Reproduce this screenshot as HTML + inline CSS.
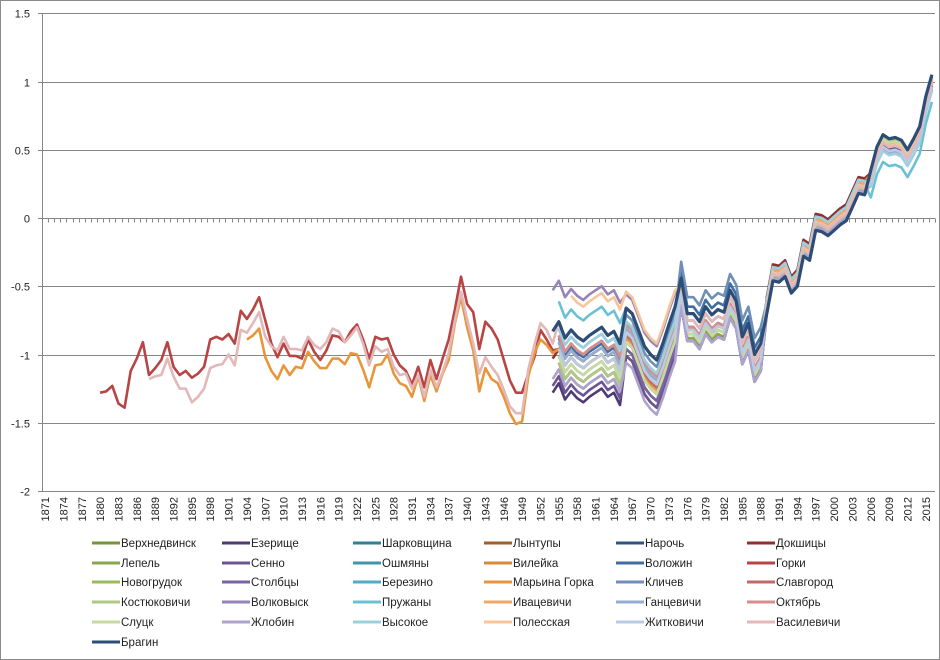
<!DOCTYPE html>
<html><head><meta charset="utf-8">
<style>
html,body{margin:0;padding:0;background:#fff;}
#wrap{position:relative;width:940px;height:660px;overflow:hidden;font-family:"Liberation Sans","DejaVu Sans",sans-serif;}
svg text{font-family:"Liberation Sans","DejaVu Sans",sans-serif;}
</style></head>
<body>
<div id="wrap">
<svg id="chart" width="940" height="660"></svg>
</div>
<script>
const startYear = 1871;
const endYear = 2016;
const yTicks = [1.5, 1, 0.5, 0, -0.5, -1, -1.5, -2];
const yTickLabels = ["1.5","1","0.5","0","-0.5","-1","-1.5","-2"];
const seriesNames = ["Верхнедвинск","Езерище","Шарковщина","Лынтупы","Нарочь","Докшицы",
 "Лепель","Сенно","Ошмяны","Вилейка","Воложин","Горки",
 "Новогрудок","Столбцы","Березино","Марьина Горка","Кличев","Славгород",
 "Костюковичи","Волковыск","Пружаны","Ивацевичи","Ганцевичи","Октябрь",
 "Слуцк","Жлобин","Высокое","Полесская","Житковичи","Василевичи","Брагин"];
const seriesColors = ["#77933c","#4f3a73","#2f7f95","#a0602a","#2f5480","#8f3030",
 "#8aa84a","#6b5494","#3f96aa","#d98a3c","#3f6ea6","#b84444",
 "#9bbb59","#7a63a3","#4fadc4","#e8963c","#6f8fb8","#c06a68",
 "#b0c882","#9684b8","#6cc0d4","#f0a868","#93aed2","#d48e8c",
 "#c6d8a4","#ada3cc","#9dd0de","#f8c49a","#b9cbe3","#e2b8b8","#2c4d75"];
// Брагин, 1954..2016
const braginStart = 1954;
const braginValues = [-0.83,-0.76,-0.88,-0.82,-0.87,-0.90,-0.86,-0.83,-0.80,-0.86,-0.83,-0.92,
 -0.66,-0.70,-0.82,-0.94,-1.00,-1.04,-0.92,-0.78,-0.65,
 -0.44,-0.70,-0.70,-0.76,-0.65,-0.71,-0.67,-0.69,-0.53,-0.61,-0.87,-0.77,-1.00,-0.92,
 -0.70,-0.46,-0.47,-0.43,-0.55,-0.50,-0.28,-0.31,-0.09,-0.10,-0.13,-0.09,-0.05,-0.02,0.08,0.18,0.17,
 0.35,0.52,0.61,0.58,0.59,0.57,0.50,0.58,0.67,0.89,1.05];
// Горки 1880..1954
const gorkiEarly = [-1.28,-1.27,-1.23,-1.36,-1.39,-1.12,-1.03,-0.91,-1.15,-1.10,-1.04,-0.91,-1.09,-1.15,-1.12,-1.17,-1.14,-1.09,-0.89,-0.87,-0.89,-0.85,-0.92,-0.68,-0.74,-0.67,-0.58,-0.75,-0.92,-1.02,-0.92,-1.01,-1.01,-1.03,-0.89,-0.98,-1.04,
 -0.97,-0.86,-0.87,-0.91,-0.83,-0.78,-0.89,-1.03,-0.87,-0.89,-0.88,-1.00,-1.08,-1.12,-1.22,-1.09,-1.24,-1.04,-1.18,-1.03,-0.89,-0.67,-0.43,-0.63,-0.69,-0.96,-0.76,-0.81,-0.89,-1.04,-1.19,-1.28,-1.28,-1.14,-1.02,-0.82,-0.89,-0.97];
// Василевичи 1888..1954
const vasilevichiEarly = [-1.18,-1.16,-1.15,-1.03,-1.16,-1.25,-1.25,-1.35,-1.31,-1.25,-1.10,-1.08,-1.07,-1.00,-1.08,-0.82,-0.84,-0.77,-0.69,-0.87,-0.94,-0.97,-0.87,-0.96,-0.96,-0.97,-0.87,-0.93,-0.96,
 -0.91,-0.81,-0.83,-0.91,-0.86,-0.80,-0.92,-1.08,-0.94,-0.98,-0.96,-1.09,-1.15,-1.14,-1.25,-1.15,-1.31,-1.11,-1.24,-1.13,-0.99,-0.75,-0.54,-0.74,-0.92,-1.14,-1.02,-1.09,-1.15,-1.26,-1.38,-1.43,-1.43,-1.11,-0.93,-0.77,-0.82,-0.92];
// Марьина Горка 1904..1954
const marinaEarly = [-0.89,-0.86,-0.81,-1.02,-1.12,-1.18,-1.08,-1.15,-1.09,-1.10,-0.98,-1.05,-1.10,
 -1.10,-1.03,-1.03,-1.07,-0.99,-1.00,-1.11,-1.24,-1.08,-1.07,-1.00,-1.14,-1.21,-1.23,-1.31,-1.16,-1.34,-1.15,-1.27,-1.14,-1.04,-0.77,-0.58,-0.80,-0.97,-1.27,-1.10,-1.18,-1.21,-1.31,-1.43,-1.51,-1.49,-1.16,-0.99,-0.89,-0.93,-0.99];
// offsets relative to Брагин for periods 1954-65, 1966-74, 1975-88, 1989-2005, 2006-16
const periodStarts = [1954,1966,1975,1989,2006];
const seriesOffsets = [
 [-0.30,-0.30,-0.15,0.05,-0.02],[-0.45,-0.35,-0.20,0.00,-0.08],[-0.15,-0.15,-0.10,0.08,-0.06],[0.00,-0.20,-0.10,0.10,-0.02],[-0.10,-0.15,-0.10,0.05,-0.03],[-0.20,-0.25,-0.15,0.12,-0.02],
 [-0.35,-0.30,-0.18,0.05,-0.01],[-0.40,-0.35,-0.20,0.02,-0.07],[-0.10,-0.10,-0.10,0.06,-0.09],[-0.15,-0.20,-0.12,0.10,-0.03],[-0.12,-0.12,0.05,0.10,-0.06],[-0.20,-0.20,-0.12,0.05,-0.04],
 [-0.25,-0.30,-0.15,0.05,-0.02],[-0.30,-0.30,-0.20,0.03,-0.05],[-0.20,-0.20,-0.15,0.05,-0.10],[-0.20,-0.22,-0.12,0.08,-0.03],[-0.05,-0.05,0.12,0.08,-0.06],[-0.15,-0.20,-0.10,0.06,-0.06],
 [-0.30,-0.25,-0.15,0.04,-0.02],[0.30,0.10,-0.05,0.05,-0.06],[0.15,0.00,-0.05,0.08,-0.20],[-0.10,-0.15,-0.15,0.08,-0.06],[-0.15,-0.15,-0.10,0.06,-0.09],[-0.10,-0.12,-0.10,0.05,-0.06],
 [-0.25,-0.25,-0.15,0.05,-0.03],[-0.35,-0.40,-0.20,0.02,-0.11],[-0.05,-0.10,-0.05,0.10,-0.12],[0.25,0.12,-0.05,0.06,-0.05],[-0.20,-0.18,-0.12,0.05,-0.09],[0.00,0.00,-0.05,0.05,-0.06],
 [0,0,0,0,0]];
const seriesStart = [1955,1954,1955,1954,1955,1954,1955,1954,1955,1955,1955,1955,1955,1955,1955,1955,1955,1955,1955,1954,1955,1955,1955,1955,1955,1954,1955,1957,1955,1955,1954];

const NS = "http://www.w3.org/2000/svg";
const svg = document.getElementById('chart');
const L = 42, R = 935, nCat = endYear - startYear + 1, cw = (R - L) / nCat;
const yZero = 218, unit = 136.5;
function xOf(year){ return L + (year - startYear + 0.5) * cw; }
function yOf(v){ return yZero - v * unit; }
function mk(tag, attrs){ const e = document.createElementNS(NS, tag); for (const k in attrs) e.setAttribute(k, attrs[k]); svg.appendChild(e); return e; }

const border = mk('rect', {x:0.5,y:0.5,width:939,height:659,fill:'none',stroke:'#8a8a8a','stroke-width':1});



yTicks.forEach((t, i) => {
  const y = Math.round(yOf(t)) + 0.5;
  if (t !== 0) {
    const g = mk('line', {x1:38,x2:R,y1:y,y2:y,stroke:'#868686','stroke-width':1});
    
    
  }
  const tx = mk('text', {x:30,y:y+4,'text-anchor':'end','font-size':11,fill:'#222'});
  tx.textContent = yTickLabels[i];
  
  
});
const yax = mk('line', {x1:42.5,x2:42.5,y1:yOf(1.5),y2:yOf(-2),stroke:'#868686','stroke-width':1});


const xz = Math.round(yZero) + 0.5;
const xax = mk('line', {x1:38,x2:R,y1:xz,y2:xz,stroke:'#868686','stroke-width':1});


for (let i = 0; i <= nCat; i++) {
  const x = Math.round(L + i * cw) + 0.5;
  const tk = mk('line', {x1:x,x2:x,y1:xz,y2:xz+4,stroke:'#868686','stroke-width':1});
  
  
}
for (let yr = startYear; yr <= endYear; yr += 3) {
  const x = xOf(yr) + 4;
  const t = mk('text', {x:0,y:0,'font-size':11,fill:'#222','text-anchor':'end',transform:`translate(${x},497) rotate(-90)`});
  t.textContent = String(yr);
  
  
}

function offsetFor(s, yr){ let k = 0; for (let p = 0; p < periodStarts.length; p++) if (yr >= periodStarts[p]) k = p; return seriesOffsets[s][k]; }
function seriesPoints(s){
  const pts = [];
  let early = null, eStart = 0;
  if (s === 11) { early = gorkiEarly; eStart = 1880; }
  if (s === 15) { early = marinaEarly; eStart = 1904; }
  if (s === 29) { early = vasilevichiEarly; eStart = 1888; }
  if (early) early.forEach((v, i) => pts.push([eStart + i, v]));
  const st = early ? 1955 : seriesStart[s];
  for (let yr = st; yr <= endYear; yr++) {
    const b = braginValues[yr - braginStart];
    pts.push([yr, b + offsetFor(s, yr)]);
  }
  return pts;
}
for (let s = 0; s < seriesNames.length; s++) {
  const pts = seriesPoints(s);
  const d = pts.map((p, i) => (i ? 'L' : 'M') + xOf(p[0]).toFixed(1) + ' ' + yOf(p[1]).toFixed(1)).join(' ');
  const path = mk('path', {d:d,fill:'none',stroke:seriesColors[s],'stroke-width':s === 30 ? 3.2 : 2.6,'stroke-linejoin':'round'});
  
  
}
const colX = [92, 222, 353, 484, 616, 747];
const rowY = [543, 563, 582, 602, 622, 642];
seriesNames.forEach((n, i) => {
  const c = i % 6, r = Math.floor(i / 6);
  const ln = mk('line', {x1:colX[c],x2:colX[c]+28,y1:rowY[r],y2:rowY[r],stroke:seriesColors[i],'stroke-width':3});
  
  
  const t = mk('text', {x:colX[c]+29,y:rowY[r]+4,'font-size':11.5,fill:'#222'});
  t.textContent = n;
  
  
});
</script>
</body></html>
